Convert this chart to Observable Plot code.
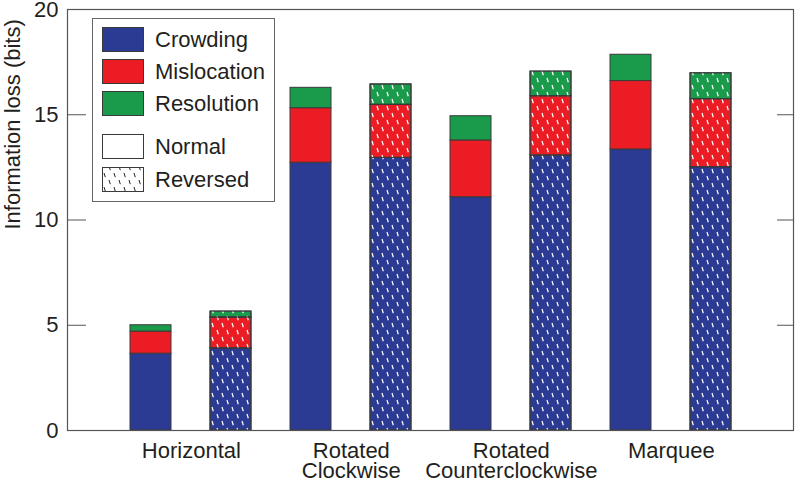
<!DOCTYPE html>
<html>
<head>
<meta charset="utf-8">
<script src="https://cdn.jsdelivr.net/npm/d3@7"></script>
<script src="https://cdn.jsdelivr.net/npm/@observablehq/plot@0.6"></script>
<style>
  html, body { margin: 0; padding: 0; background: #fff; }
  #chart { position: relative; width: 796px; height: 483px; font-family: "Liberation Sans", Arial, sans-serif; }
  #legend { position: absolute; left: 92px; top: 18px; }
</style>
</head>
<body>
<div id="chart"></div>
<script>
// ---- data ----
const groups = ["Horizontal", "Rotated\nClockwise", "Rotated\nCounterclockwise", "Marquee"];
const conditions = ["Normal", "Reversed"];
const components = ["Crowding", "Mislocation", "Resolution"];
const crowdingNormal     = [3.65, 12.72, 11.08, 13.35];
const mislocationNormal  = [1.05, 2.59, 2.70, 3.25];
const resolutionNormal   = [0.30, 0.97, 1.15, 1.25];
const crowdingReversed    = [3.90, 12.95, 13.06, 12.51];
const mislocationReversed = [1.47, 2.52, 2.82, 3.23];
const resolutionReversed  = [0.28, 0.97, 1.17, 1.23];
const yTicks = [0, 5, 10, 15, 20];
const colors = ["#2b3a93", "#ec1c24", "#1a9a4b"];

const series = {
  Normal: [crowdingNormal, mislocationNormal, resolutionNormal],
  Reversed: [crowdingReversed, mislocationReversed, resolutionReversed]
};
const key = (g, c) => g + "|" + c;
const keys = groups.flatMap(g => conditions.map(c => key(g, c)));
const rows = [];
groups.forEach((g, gi) => conditions.forEach(c => components.forEach((comp, ci) => {
  rows.push({group: g, condition: c, key: key(g, c), component: comp, value: series[c][ci][gi]});
})));

const font = "Liberation Sans, Arial, sans-serif";
const fs = 22;
const width = 796, height = 483;
const mLeft = 67, mRight = 3;
const step = (width - mLeft - mRight) / 9;

const svg = Plot.plot({
  width, height,
  marginLeft: mLeft, marginRight: mRight, marginTop: 9, marginBottom: 53,
  style: {fontFamily: font, fontSize: fs + "px", color: "#231f20", background: "white", overflow: "visible"},
  x: {domain: keys, paddingInner: 0.492, paddingOuter: 0.746, axis: null},
  y: {domain: [0, 20], axis: null},
  color: {domain: components, range: colors},
  marks: [
    Plot.barY(rows, {x: "key", y: "value", fill: "component", stroke: "#3a3a3a", strokeWidth: 1}),
    Plot.barY(rows.filter(d => d.condition === "Reversed"),
      {x: "key", y: "value", z: "component", fill: "url(#hatch)", stroke: "#3a3a3a", strokeWidth: 1}),
    Plot.frame({stroke: "#555", strokeWidth: 1.2}),
    Plot.axisY({anchor: "left", ticks: yTicks, tickSize: 0, tickPadding: 9, label: null, fontSize: fs, fill: "#231f20"}),
    Plot.axisY({anchor: "left", ticks: yTicks, tickSize: -19, tickFormat: () => "", label: null, stroke: "#555"}),
    Plot.axisY({anchor: "right", ticks: yTicks, tickSize: -17, tickFormat: () => "", label: null, stroke: "#555"}),
    Plot.text(groups, {x: g => key(g, "Normal"), text: d => d, frameAnchor: "bottom",
      lineAnchor: "top", dx: step / 2, dy: 13, lineHeight: 0.91, fontSize: fs, fill: "#231f20"}),
    Plot.text(["Information loss (bits)"], {frameAnchor: "left", rotate: -90, dx: -55, dy: 9.5,
      fontSize: fs, fill: "#231f20"})
  ]
});

// hatch pattern definitions
const defs = d3.select(svg).insert("defs", ":first-child");
const p = defs.append("pattern").attr("id", "hatch").attr("patternUnits", "userSpaceOnUse")
  .attr("width", 10).attr("height", 14);
p.append("path").attr("d", "M2,1 l1.3,4.2 M7,8 l1.3,4.2").attr("stroke", "white").attr("stroke-width", 1.2).attr("fill", "none");

document.getElementById("chart").appendChild(svg);

// legend
const lg = d3.select("#chart").append("svg").attr("id", "legend")
  .attr("width", 183).attr("height", 184)
  .style("font-family", font).style("font-size", fs + "px");
const lp = lg.append("defs").append("pattern").attr("id", "hatchLegend").attr("patternUnits", "userSpaceOnUse")
  .attr("width", 10).attr("height", 14);
lp.append("path").attr("d", "M2,1 l1.3,4.2 M7,8 l1.3,4.2").attr("stroke", "#222").attr("stroke-width", 1).attr("fill", "none");
lg.append("rect").attr("x", 0.5).attr("y", 0.5).attr("width", 182).attr("height", 183)
  .attr("fill", "white").attr("stroke", "#666").attr("stroke-width", 1);
const legendItems = [
  {label: components[0], fill: colors[0], y: 9},
  {label: components[1], fill: colors[1], y: 41},
  {label: components[2], fill: colors[2], y: 73},
  {label: conditions[0], fill: "white", y: 116},
  {label: conditions[1], fill: "url(#hatchLegend)", y: 149}
];
legendItems.forEach(it => {
  lg.append("rect").attr("x", 10.5).attr("y", it.y + 0.5).attr("width", 41).attr("height", 24)
    .attr("fill", it.fill).attr("stroke", "#3a3a3a").attr("stroke-width", 1);
  lg.append("text").attr("x", 63).attr("y", it.y + 12).attr("dy", "0.35em")
    .attr("fill", "#231f20").text(it.label);
});
</script>
</body>
</html>
